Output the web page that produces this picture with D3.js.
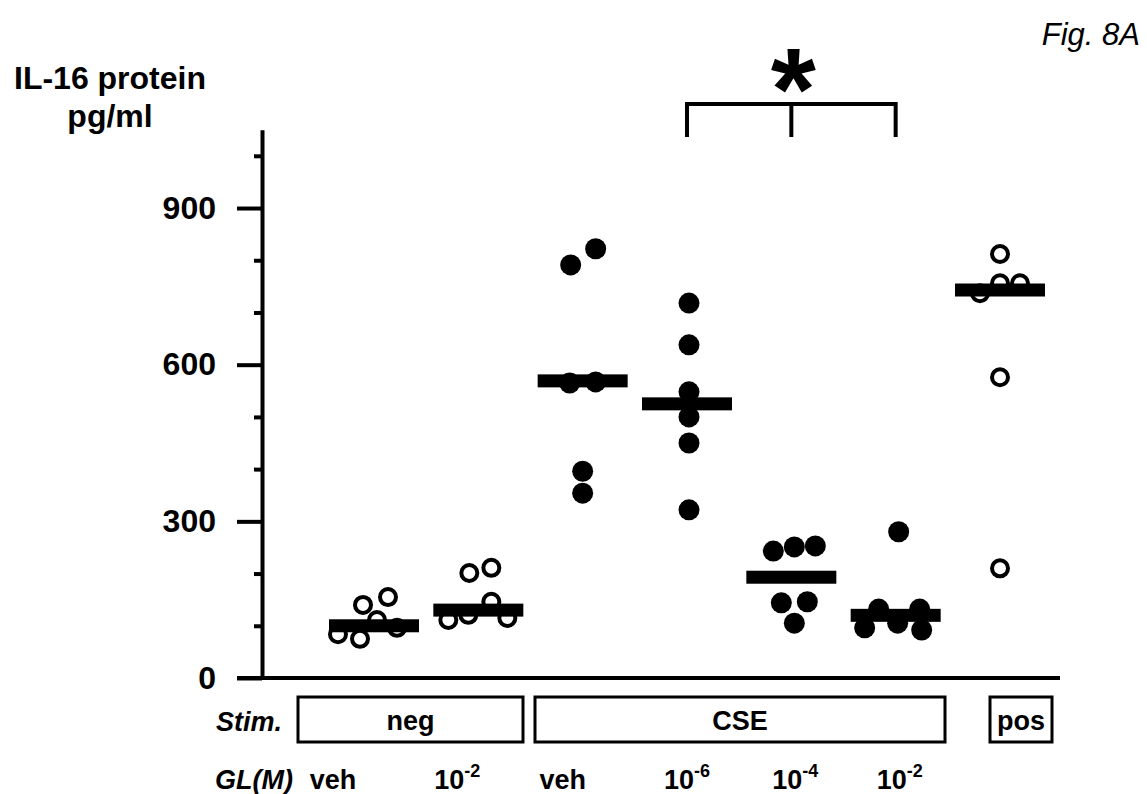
<!DOCTYPE html>
<html>
<head>
<meta charset="utf-8">
<script src="https://cdn.jsdelivr.net/npm/d3@7"></script>
<style>
body { margin: 0; background: #fff; }
text { font-family: "Liberation Sans", Arial, sans-serif; fill: #000; }
</style>
</head>
<body>
<svg width="1147" height="794"></svg>
<script>
// groups, left to right
var groups = ["negVeh", "neg2", "cseVeh", "cse6", "cse4", "cse2", "pos"];
var glBase = ["veh", "10", "veh", "10", "10", "10", ""];
var glExp = ["", "-2", "", "-6", "-4", "-2", ""];
var filled = [false, false, true, true, true, true, false];
var medians = [100, 130, 569, 525, 193, 120, 743];
var values = [
	[84, 75, 140, 155, 111, 96],
	[111, 121, 201, 211, 146, 115],
	[791, 822, 565, 567, 396, 354],
	[718, 638, 548, 500, 450, 322],
	[243, 251, 253, 144, 146, 105],
	[280, 132, 132, 96, 105, 92],
	[812, 737, 756, 756, 576, 210]
];
var majorTicks = [0, 300, 600, 900];
var minorTicks = [100, 200, 400, 500, 700, 800, 1000];
var stimBoxes = [
	{label: "neg", x0: 298, x1: 523},
	{label: "CSE", x0: 535, x1: 945},
	{label: "pos", x0: 990, x1: 1052}
];

var svg = d3.select("svg");

var x = d3.scalePoint().domain(groups).range([374, 1000]);
var y = d3.scaleLinear().domain([0, 1050]).range([678, 129.7]);

// horizontal spread of the dots inside each column (px)
var spread = [
	[-36, -14, -11, 14, 3, 23],
	[-30, -10, -9, 13, 13, 29],
	[-12, 13, -13, 13, 0, 0],
	[2, 2, 2, 2, 2, 2],
	[-18, 3, 24, -10, 16, 3],
	[3, -17, 24, -31, 2, 26],
	[0, -20, 0, 20, 0, 0]
];

// axes
var yAxis = svg.append("g").attr("transform", "translate(262,0)")
	.call(d3.axisLeft(y).tickValues(majorTicks).tickSize(25).tickPadding(21).tickSizeOuter(0));
yAxis.selectAll("path, line").attr("stroke", "#000").attr("stroke-width", 4);
yAxis.selectAll("text").attr("font-size", 32).attr("font-weight", "bold")
	.style("font-family", "'Liberation Sans', Arial, sans-serif");

var yMinor = svg.append("g").attr("transform", "translate(262,0)")
	.call(d3.axisLeft(y).tickValues(minorTicks).tickSize(8).tickFormat(""));
yMinor.select(".domain").remove();
yMinor.selectAll("line").attr("stroke", "#000").attr("stroke-width", 4);

svg.append("line").attr("x1", 237).attr("x2", 1060).attr("y1", y(0)).attr("y2", y(0))
	.attr("stroke", "#000").attr("stroke-width", 4);

// dots
var pts = [];
groups.forEach(function(g, i) {
	values[i].forEach(function(v, j) {
		pts.push({g: g, v: v, dx: spread[i][j], filled: filled[i]});
	});
});

svg.append("g").selectAll("circle").data(pts).enter().append("circle")
	.attr("cx", function(d) { return x(d.g) + d.dx; })
	.attr("cy", function(d) { return y(d.v); })
	.attr("r", function(d) { return d.filled ? 10.5 : 8; })
	.attr("fill", function(d) { return d.filled ? "#000" : "#fff"; })
	.attr("stroke", "#000")
	.attr("stroke-width", function(d) { return d.filled ? 0 : 4; });

// median bars
svg.append("g").selectAll("rect").data(groups).enter().append("rect")
	.attr("x", function(d) { return x(d) - 45; })
	.attr("y", function(d, i) { return y(medians[i]) - 6.5; })
	.attr("width", 90)
	.attr("height", 13)
	.attr("fill", "#000");

// significance bracket
var bx0 = x("cse6"), bx1 = x("cse2"), bm = x("cse4");
svg.append("path")
	.attr("d", "M" + bx0 + ",137V104H" + bx1 + "V137M" + bm + ",104V137")
	.attr("fill", "none").attr("stroke", "#000").attr("stroke-width", 4);
svg.append("text").attr("x", bm + 2).attr("y", 130).attr("text-anchor", "middle")
	.attr("font-size", 116).attr("font-weight", "bold").text("*");

// titles
svg.append("text").attr("x", 110).attr("y", 89).attr("text-anchor", "middle")
	.attr("font-size", 32).attr("font-weight", "bold").text("IL-16 protein");
svg.append("text").attr("x", 110).attr("y", 127).attr("text-anchor", "middle")
	.attr("font-size", 32).attr("font-weight", "bold").text("pg/ml");
svg.append("text").attr("x", 1140).attr("y", 45).attr("text-anchor", "end")
	.attr("font-size", 31).attr("font-style", "italic").text("Fig. 8A");

// stimulation boxes
svg.append("text").attr("x", 216).attr("y", 731).attr("font-size", 27)
	.attr("font-weight", "bold").attr("font-style", "italic").text("Stim.");
var box = svg.append("g").selectAll("g").data(stimBoxes).enter().append("g");
box.append("rect")
	.attr("x", function(d) { return d.x0; }).attr("y", 697)
	.attr("width", function(d) { return d.x1 - d.x0; }).attr("height", 45)
	.attr("fill", "none").attr("stroke", "#000").attr("stroke-width", 3);
box.append("text")
	.attr("x", function(d) { return (d.x0 + d.x1) / 2; }).attr("y", 730)
	.attr("text-anchor", "middle").attr("font-size", 27).attr("font-weight", "bold")
	.text(function(d) { return d.label; });

// GL concentration row
svg.append("text").attr("x", 215).attr("y", 789).attr("font-size", 27)
	.attr("font-weight", "bold").attr("font-style", "italic").text("GL(M)");
var glNudge = [-41, -21, -20, 0, 4, 4, 0];
var gl = svg.append("g").selectAll("text").data(groups).enter().append("text")
	.attr("x", function(d, i) { return x(d) + glNudge[i]; })
	.attr("y", 789)
	.attr("text-anchor", "middle").attr("font-size", 27).attr("font-weight", "bold");
gl.append("tspan").text(function(d, i) { return glBase[i]; });
gl.append("tspan").attr("dy", -12).attr("font-size", 18)
	.text(function(d, i) { return glExp[i]; });
</script>
</body>
</html>
